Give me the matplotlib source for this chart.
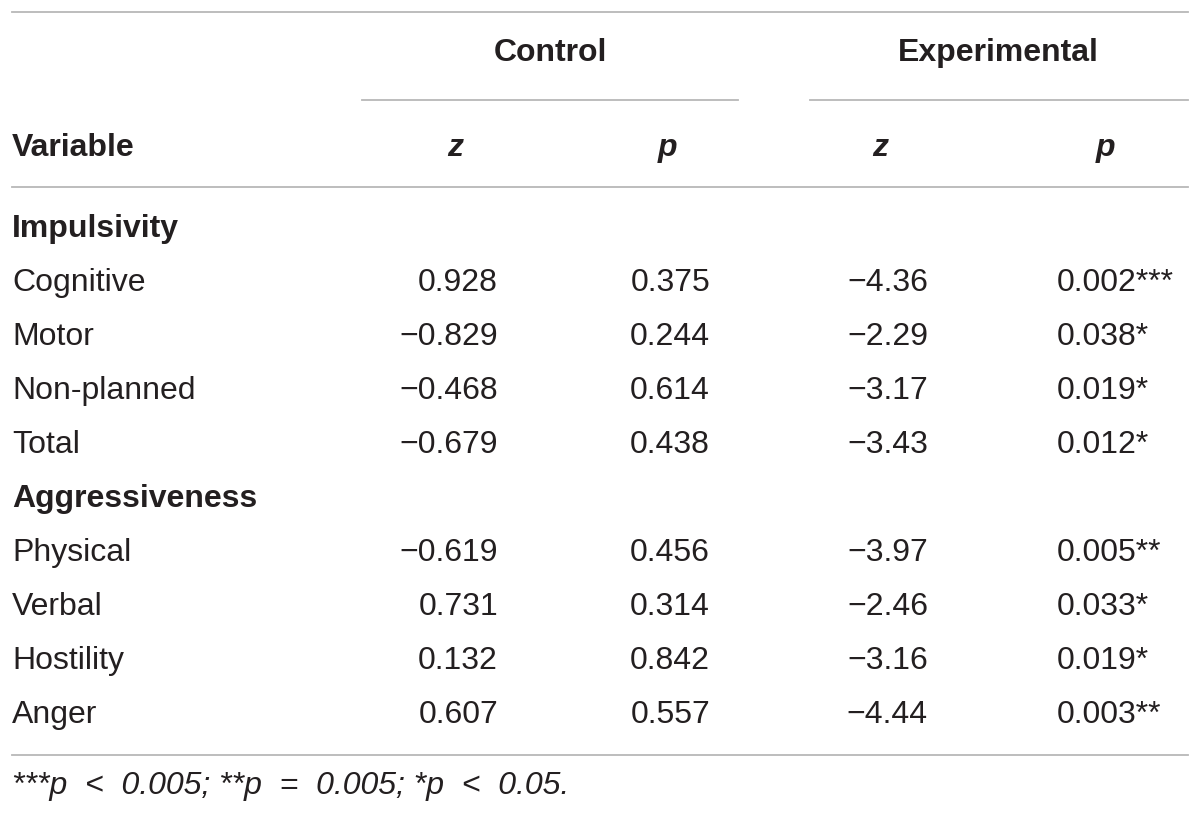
import matplotlib
matplotlib.use("Agg")
from matplotlib import pyplot as plt

# Data
groups = ["Impulsivity", "Aggressiveness"]
variables = [["Cognitive", "Motor", "Non-planned", "Total"],
             ["Physical", "Verbal", "Hostility", "Anger"]]
control_z = [0.928, -0.829, -0.468, -0.679, -0.619, 0.731, 0.132, 0.607]
control_p = [0.375, 0.244, 0.614, 0.438, 0.456, 0.314, 0.842, 0.557]
exp_z = [-4.36, -2.29, -3.17, -3.43, -3.97, -2.46, -3.16, -4.44]
exp_p = [0.002, 0.038, 0.019, 0.012, 0.005, 0.033, 0.019, 0.003]
exp_sig = ["***", "*", "*", "*", "**", "*", "*", "**"]
footnote = "***p < 0.005; **p = 0.005; *p < 0.05."

plt.rcParams['font.family'] = ['Liberation Sans', 'DejaVu Sans']
FS = 23
ink = "#231f20"
rule = "#b8b8b8"

fig = plt.figure(figsize=(12, 8.17), dpi=100, facecolor='white')
ax = fig.add_axes([0, 0, 1, 1])
ax.set_xlim(0, 1200)
ax.set_ylim(817, 0)
ax.axis('off')


def fmt(v, nd):
        s = f"{v:.{nd}f}"
        return s.replace("-", "\u2212")


# rules
ax.plot([12, 1188], [12, 12], color=rule, lw=1.3)
ax.plot([362, 738], [100, 100], color=rule, lw=1.3)
ax.plot([810, 1188], [100, 100], color=rule, lw=1.3)
ax.plot([12, 1188], [187, 187], color=rule, lw=1.3)
ax.plot([12, 1188], [755, 755], color=rule, lw=1.3)

# header
ax.text(550, 53, "Control", ha='center', va='center', fontsize=FS,
        fontweight='bold', color=ink)
ax.text(998, 53, "Experimental", ha='center', va='center', fontsize=FS,
        fontweight='bold', color=ink)
ax.text(12, 148, "Variable", ha='left', va='center', fontsize=FS,
        fontweight='bold', color=ink)
for x, lab in zip([455, 667, 880, 1105], ["z", "p", "z", "p"]):
        ax.text(x, 148, lab, ha='center', va='center', fontsize=FS,
                fontweight='bold', style='italic', color=ink)

# body
y = 229
i = 0
for g, names in zip(groups, variables):
        ax.text(12, y, g, ha='left', va='center', fontsize=FS,
                fontweight='bold', color=ink)
        y += 54
        for name in names:
                ax.text(12, y, name, ha='left', va='center', fontsize=FS,
                        color=ink)
                ax.text(498, y, fmt(control_z[i], 3), ha='right',
                        va='center', fontsize=FS, color=ink)
                ax.text(710, y, fmt(control_p[i], 3), ha='right',
                        va='center', fontsize=FS, color=ink)
                ax.text(928, y, fmt(exp_z[i], 2), ha='right',
                        va='center', fontsize=FS, color=ink)
                ax.text(1057, y, fmt(exp_p[i], 3) + exp_sig[i], ha='left',
                        va='center', fontsize=FS, color=ink)
                y += 54
                i += 1

ax.text(12, 786, footnote.replace(" < ", "  <  ").replace(" = ", "  =  "),
        ha='left', va='center', fontsize=FS, style='italic', color=ink)

fig.savefig("out.png", dpi=100, facecolor='white')
